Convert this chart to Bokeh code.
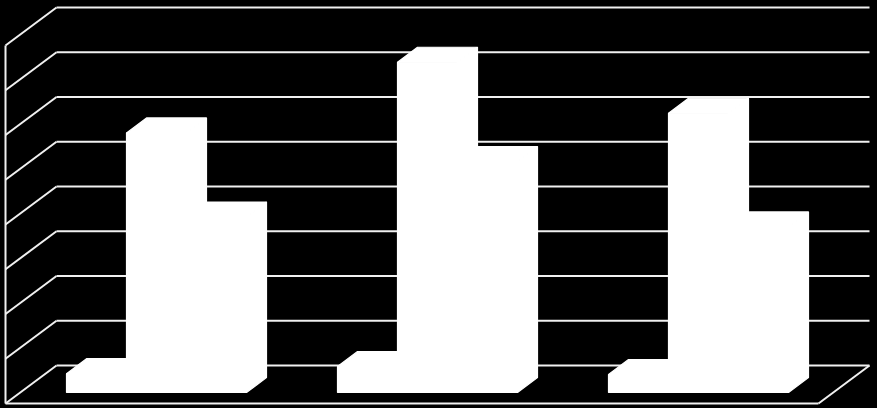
from bokeh.plotting import figure
from bokeh.embed import file_html
from bokeh.resources import INLINE
from bokeh.models import Range1d, GlobalInlineStyleSheet

# Values (value axis has no labels; 0-40 in steps of 5 assumed)
categories = [1, 2, 3]
series_a = [2.1, 2.9, 2.0]
series_b = [29.0, 36.9, 31.2]
series_c = [19.6, 25.8, 18.5]
grid_values = [0, 5, 10, 15, 20, 25, 30, 35, 40]

W, H = 877, 408
X_PER_CAT = 271.0
Y_PER_VAL = 8.95
x0 = 1 - 156 / X_PER_CAT
y0 = -(H - 365) / Y_PER_VAL

p = figure(width=W, height=H, output_backend="svg", toolbar_location=None,
           x_range=Range1d(x0, x0 + W / X_PER_CAT),
           y_range=Range1d(y0, y0 + H / Y_PER_VAL),
           background_fill_color="#000000", border_fill_color="#000000",
           min_border=0, min_border_left=0, min_border_right=0,
           min_border_top=0, min_border_bottom=0, outline_line_color=None)
p.xaxis.visible = False
p.yaxis.visible = False
p.xgrid.visible = False
p.ygrid.visible = False
p.stylesheets = [GlobalInlineStyleSheet(css="html,body{margin:0;padding:0;background:#000;overflow:hidden}")]

LINE = "#f0f0f0"
LW = 2.0

# chart box geometry, in data units
wall_left = x0 + 56 / X_PER_CAT
wall_right = x0 + 869 / X_PER_CAT
depth_x = 51 / X_PER_CAT
depth_y = 38 / Y_PER_VAL

# back wall gridlines, left wall diagonals
p.segment([wall_left] * len(grid_values), grid_values,
          [wall_right] * len(grid_values), grid_values, line_color=LINE, line_width=LW)
p.segment([wall_left - depth_x] * len(grid_values), [g - depth_y for g in grid_values],
          [wall_left] * len(grid_values), grid_values, line_color=LINE, line_width=LW)
# left vertical edge, floor front edge, floor right edge
top = max(grid_values)
p.segment([wall_left - depth_x], [-depth_y], [wall_left - depth_x], [top - depth_y],
          line_color=LINE, line_width=LW)
p.segment([wall_left - depth_x], [-depth_y], [wall_right - depth_x], [-depth_y],
          line_color=LINE, line_width=LW)
p.segment([wall_right - depth_x], [-depth_y], [wall_right], [0],
          line_color=LINE, line_width=LW)

# 3D bars
bar_w = 60 / X_PER_CAT
bar_dx = 20 / X_PER_CAT
bar_dy = 15 / Y_PER_VAL
base_back = -12 / Y_PER_VAL   # bar foot, back edge
base_front = base_back - bar_dy

xs, ys = [], []
for offset, series in zip((-1.5, -0.5, 0.5), (series_a, series_b, series_c)):
    for c, v in zip(categories, series):
        l = c + offset * bar_w
        r = l + bar_w
        t_back = base_back + v
        t_front = t_back - bar_dy
        # front face
        xs.append([l, r, r, l])
        ys.append([base_front, base_front, t_front, t_front])
        # top face
        xs.append([l, r, r + bar_dx, l + bar_dx])
        ys.append([t_front, t_front, t_back, t_back])
        # side face
        xs.append([r, r + bar_dx, r + bar_dx, r])
        ys.append([base_front, base_back, t_back, t_front])
p.patches(xs, ys, fill_color="#ffffff", line_color="#ffffff", line_width=1.2)

open("out.html", "w").write(file_html(p, INLINE))
